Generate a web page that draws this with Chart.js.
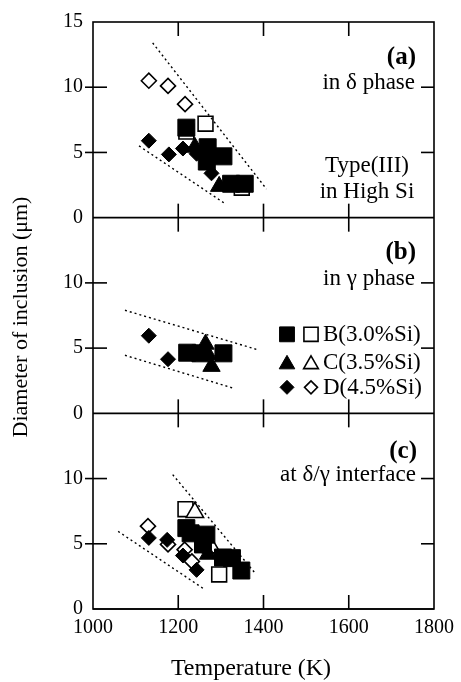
<!DOCTYPE html>
<html>
<head>
<meta charset="utf-8">
<script src="https://cdn.jsdelivr.net/npm/chart.js@4.4.0/dist/chart.umd.min.js"></script>
<style>
  html, body { margin: 0; padding: 0; background: #fff; }
</style>
</head>
<body>
<canvas id="chart" width="461" height="682"></canvas>
<script>
/*===== DATA =====*/
const xTicks = [1000, 1200, 1400, 1600, 1800];
const yTicks = [0, 5, 10, 15];

// (a) in delta phase
const aFilledB = [[1219, 6.9], [1269, 5.4], [1267, 4.3], [1306, 4.7], [1324, 2.6], [1356, 2.6]];
const aOpenB = [[1219, 6.6], [1264, 7.2], [1349, 2.3]];
const aFilledC = [[1239, 5.4], [1296, 2.4]];
const aFilledD = [[1131, 5.9], [1178, 4.85], [1211, 5.3], [1243, 4.9], [1278, 3.4]];
const aOpenD = [[1131, 10.5], [1176, 10.1], [1216, 8.7]];
const aUpperGuide = [[1140, 13.4], [1407, 2.2]];
const aLowerGuide = [[1108, 5.5], [1311, 1.05]];

// (b) in gamma phase
const bFilledB = [[1221, 4.65], [1252, 4.6], [1306, 4.6]];
const bFilledC = [[1264, 5.3], [1270, 4.5], [1278, 3.6]];
const bFilledD = [[1131, 5.95], [1176, 4.15]];
const bUpperGuide = [[1075, 7.9], [1384, 4.9]];
const bLowerGuide = [[1075, 4.45], [1332, 1.9]];

// (c) at delta/gamma interface
const cFilledB = [[1219, 6.2], [1229, 5.8], [1266, 5.7], [1258, 4.95], [1305, 3.95], [1326, 3.9], [1348, 2.95]];
const cOpenB = [[1217, 7.65], [1296, 2.65]];
const cFilledC = [[1270, 4.2]];
const cOpenC = [[1239, 7.4], [1278, 4.7]];
const cFilledD = [[1131, 5.45], [1174, 5.3], [1211, 4.1], [1243, 3.0]];
const cOpenD = [[1129, 6.35], [1176, 4.95], [1215, 4.55], [1232, 3.65]];
const cUpperGuide = [[1187, 10.3], [1379, 2.8]];
const cLowerGuide = [[1059, 5.95], [1262, 1.5]];

const legendRows = [
  { label: "B(3.0%Si)", shape: "rect" },
  { label: "C(3.5%Si)", shape: "triangle" },
  { label: "D(4.5%Si)", shape: "rectRot" },
];

/*===== HELPERS =====*/
const FONT = "'Liberation Serif', 'Times New Roman', serif";
const SIZE = { rect: 12, triangle: 10, rectRot: 7.5 };
const OPEN_SIZE = { rect: 10.5, triangle: 10, rectRot: 7.5 };

function pts(arr) {
  return arr.map(p => ({ x: p[0], y: p[1] }));
}

function markers(arr, shape, filled, yAxisID) {
  const r = filled ? SIZE[shape] : OPEN_SIZE[shape];
  return {
    data: pts(arr),
    yAxisID: yAxisID,
    pointStyle: shape,
    pointRadius: r,
    pointHoverRadius: r,
    backgroundColor: filled ? "#000" : "#fff",
    borderColor: "#000",
    borderWidth: filled ? 1 : 1.6,
  };
}

function guide(arr, yAxisID) {
  return {
    data: pts(arr),
    yAxisID: yAxisID,
    showLine: true,
    borderColor: "#000",
    borderWidth: 1.4,
    borderDash: [2, 3],
    pointRadius: 0,
    pointHoverRadius: 0,
  };
}

function yScale(hideTop) {
  return {
    type: "linear",
    position: "left",
    stack: "panels",
    stackWeight: 1,
    min: 0,
    max: 15,
    afterBuildTicks: s => { s.ticks = yTicks.map(v => ({ value: v })); },
    afterFit: s => { s.width = 93; },
    grid: { display: false, drawTicks: false },
    border: { display: false },
    ticks: {
      autoSkip: false,
      padding: 10,
      color: "#000",
      font: { family: FONT, size: 20 },
      callback: v => (hideTop && v === 15 ? "" : String(v)),
    },
  };
}

/*===== FRAME, TICKS AND LABELS =====*/
const framePlugin = {
  id: "frame",
  beforeDatasetsDraw(chart) {
    const { ctx, chartArea: ca, scales } = chart;
    const line = (x1, y1, x2, y2) => {
      ctx.beginPath();
      ctx.moveTo(x1, y1);
      ctx.lineTo(x2, y2);
      ctx.stroke();
    };
    ctx.save();
    ctx.strokeStyle = "#000";
    ctx.lineWidth = 1.6;
    ctx.strokeRect(ca.left, ca.top, ca.right - ca.left, ca.bottom - ca.top);
    ["ya", "yb", "yc"].forEach(id => {
      const s = scales[id];
      line(ca.left, s.bottom, ca.right, s.bottom);
      [5, 10].forEach(v => {
        const py = s.getPixelForValue(v);
        line(ca.left - 8, py, ca.left + 14, py);
        line(ca.right - 13, py, ca.right, py);
      });
      [1200, 1400, 1600].forEach(v => {
        const px = scales.x.getPixelForValue(v);
        line(px, s.top, px, s.top + 14);
        line(px, s.bottom - 14, px, s.bottom);
      });
    });
    ctx.restore();
  },
  afterDraw(chart) {
    const { ctx, scales } = chart;
    const ya = scales.ya, yb = scales.yb, yc = scales.yc;
    const text = (str, x, y, size, align, bold) => {
      ctx.font = (bold ? "bold " : "") + size + "px " + FONT;
      ctx.textAlign = align;
      ctx.fillText(str, x, y);
    };
    ctx.save();
    ctx.fillStyle = "#000";
    ctx.textBaseline = "alphabetic";

    // panel (a)
    text("(a)", 416, ya.bottom - 154, 25, "right", true);
    text("in \u03b4 phase", 415, ya.bottom - 129, 23, "right");
    text("Type(III)", 367, ya.bottom - 46, 23, "center");
    text("in High Si", 367, ya.bottom - 20, 23, "center");

    // panel (b)
    text("(b)", 416, yb.bottom - 154, 25, "right", true);
    text("in \u03b3 phase", 415, yb.bottom - 128, 23, "right");

    // legend in panel (b)
    const rowY = [yb.bottom - 79, yb.bottom - 51, yb.bottom - 26];
    legendRows.forEach((row, i) => {
      const y = rowY[i];
      const r = row.shape === "rect" ? 10.5 : row.shape === "triangle" ? 9 : 7;
      const dy = row.shape === "triangle" ? 2 : 0;
      ctx.fillStyle = "#000";
      ctx.strokeStyle = "#000";
      ctx.lineWidth = 1;
      Chart.helpers.drawPoint(ctx, { pointStyle: row.shape, radius: r, borderWidth: 1, rotation: 0 }, 287, y + dy);
      ctx.fillStyle = "#fff";
      ctx.lineWidth = 1.6;
      Chart.helpers.drawPoint(ctx, { pointStyle: row.shape, radius: r - 0.5, borderWidth: 1.6, rotation: 0 }, 311, y + dy);
      ctx.fillStyle = "#000";
      ctx.textBaseline = "middle";
      text(row.label, 323, y + 1, 23, "left");
      ctx.textBaseline = "alphabetic";
    });

    // panel (c)
    text("(c)", 417, yc.bottom - 151, 25, "right", true);
    text("at \u03b4/\u03b3 interface", 416, yc.bottom - 128, 23, "right");

    // axis titles
    text("Temperature (K)", 251, 675, 24, "center");
    ctx.translate(27, 317);
    ctx.rotate(-Math.PI / 2);
    text("Diameter of inclusion (\u03bcm)", 0, 0, 22, "center");
    ctx.restore();
  },
};

/*===== CHART =====*/
const ctx = document.getElementById("chart").getContext("2d");

new Chart(ctx, {
  type: "scatter",
  data: {
    datasets: [
      guide(aUpperGuide, "ya"),
      guide(aLowerGuide, "ya"),
      guide(bUpperGuide, "yb"),
      guide(bLowerGuide, "yb"),
      guide(cUpperGuide, "yc"),
      guide(cLowerGuide, "yc"),
      markers(aFilledD, "rectRot", true, "ya"),
      markers(aFilledC, "triangle", true, "ya"),
      markers(aFilledB, "rect", true, "ya"),
      markers(aOpenD, "rectRot", false, "ya"),
      markers(aOpenB, "rect", false, "ya"),
      markers(bFilledD, "rectRot", true, "yb"),
      markers(bFilledC, "triangle", true, "yb"),
      markers(bFilledB, "rect", true, "yb"),
      markers(cFilledD, "rectRot", true, "yc"),
      markers(cFilledC, "triangle", true, "yc"),
      markers(cFilledB, "rect", true, "yc"),
      markers(cOpenD, "rectRot", false, "yc"),
      markers(cOpenC, "triangle", false, "yc"),
      markers(cOpenB, "rect", false, "yc"),
    ],
  },
  options: {
    responsive: false,
    animation: false,
    devicePixelRatio: 1,
    layout: { padding: { top: 17, right: 26, left: 0, bottom: 0 } },
    plugins: { legend: { display: false }, tooltip: { enabled: false } },
    scales: {
      x: {
        type: "linear",
        position: "bottom",
        min: 1000,
        max: 1800,
        afterBuildTicks: s => { s.ticks = xTicks.map(v => ({ value: v })); },
        afterFit: s => { s.height = 73; },
        grid: { display: false, drawTicks: false },
        border: { display: false },
        ticks: {
          autoSkip: false,
          maxRotation: 0,
          padding: 7,
          color: "#000",
          font: { family: FONT, size: 20 },
          callback: v => String(v),
        },
      },
      yc: yScale(true),
      yb: yScale(true),
      ya: yScale(false),
    },
  },
  plugins: [framePlugin],
});
</script>
</body>
</html>
